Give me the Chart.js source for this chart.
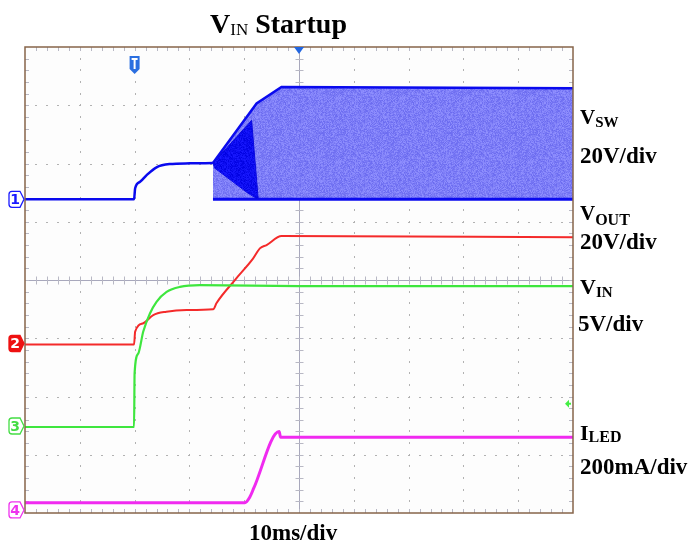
<!DOCTYPE html>
<html>
<head>
<meta charset="utf-8">
<script src="https://cdn.jsdelivr.net/npm/chart.js@4.4.0/dist/chart.umd.min.js"></script>
<style>
    body { margin: 0; background: #fff; }
    #wrap { position: relative; width: 693px; height: 545px; }
    #scope { position: absolute; left: 0; top: 0; }
    .lbl { position: absolute; font-family: "Liberation Serif", "Times New Roman", serif; font-weight: bold;
           line-height: 1; white-space: nowrap; color: #000; }
    .lbl sub { vertical-align: baseline; position: relative; }
</style>
</head>
<body>
<div id="wrap">
    <canvas id="scope" width="693" height="545"></canvas>
    <div class="lbl" style="left:210px;top:10px;font-size:28px">V<sub style="font-size:17px;font-weight:normal;top:2px">IN</sub> Startup</div>
    <div class="lbl" style="left:580px;top:107px;font-size:21px">V<sub style="font-size:15px;top:3px">SW</sub></div>
    <div class="lbl" style="left:580px;top:144px;font-size:23px">20V/div</div>
    <div class="lbl" style="left:580px;top:203px;font-size:21px">V<sub style="font-size:16px;top:5px">OUT</sub></div>
    <div class="lbl" style="left:580px;top:230px;font-size:23px">20V/div</div>
    <div class="lbl" style="left:580px;top:276px;font-size:22px">V<sub style="font-size:15px;top:3px">IN</sub></div>
    <div class="lbl" style="left:578px;top:312px;font-size:23px">5V/div</div>
    <div class="lbl" style="left:580px;top:422px;font-size:22px">I<sub style="font-size:16px;top:2px">LED</sub></div>
    <div class="lbl" style="left:580px;top:455px;font-size:23px">200mA/div</div>
    <div class="lbl" style="left:249px;top:521px;font-size:23px">10ms/div</div>
</div>
<script>
    // time in ms (10 ms/div); values in each channel's own units
    const vswStartT = [0, 19.9, 20.1, 21.0, 22.2, 24.0, 26.4, 30.1, 34.3];
    const vswStartV = [0, 0, 3.8, 6.0, 8.3, 11.0, 12.1, 12.35, 12.45];
    const vswTopT = [34.3, 42.26, 46.8, 100];
    const vswTopV = [12.45, 32.9, 38.6, 38.1];
    const vswBaseT = [34.3, 100];
    const vswBaseV = [0, 0];
    const vswBurstTopT = [34.3, 41.35, 42.55];
    const vswBurstTopV = [12.45, 27.1, 0.3];
    const vswBurstLowT = [34.3, 34.65, 40.73, 42.26, 42.55];
    const vswBurstLowV = [12.45, 10.7, 2.06, 0.34, 0.3];

    const voutT = [0, 19.9, 20.1, 21.6, 23.4, 25.8, 29.5, 34.34, 34.96, 38.3, 41.64, 42.86, 44.08, 46.82, 100];
    const voutV = [0, 0, 4.4, 7.3, 10.1, 11.25, 11.8, 12.07, 14.24, 22.13, 29.57, 33.0, 34.13, 37.22, 36.8];

    const vinT = [0, 19.9, 20.0, 20.66, 21.58, 22.8, 24.0, 25.84, 28.27, 31.9, 50.15, 100];
    const vinV = [0, 0, 4.63, 6.3, 8.2, 9.75, 10.75, 11.6, 12.03, 12.18, 12.1, 12.09];

    const iledT = [0, 40.12, 41.03, 41.76, 46.38, 46.64, 100];
    const iledV = [25, 25, 44.6, 75.5, 269, 250, 250];

    // per channel: units per division and ground position (divisions above the bottom edge)
    const unitsPerDiv = [20, 20, 5, 200];
    const groundDiv = [5.385, 2.893, 1.476, 0.052];
    const triggerTime = 20;
    const trigLevelVin = 2.0;

    const pts = (t, v) => t.map((ti, i) => ({ x: ti, y: v[i] }));
    const range = (ch) => ({ min: -groundDiv[ch] * unitsPerDiv[ch], max: (8 - groundDiv[ch]) * unitsPerDiv[ch] });

    const ctx = document.getElementById('scope').getContext('2d');

    function hash(x, y) {
        let h = (x * 374761393 + y * 668265263) | 0;
        h = Math.imul(h ^ (h >>> 13), 1274126177);
        return ((h ^ (h >>> 16)) >>> 0) / 4294967296;
    }
    function noisePattern(lo, hi, blueLo, alpha) {
        const c = document.createElement('canvas');
        c.width = 64; c.height = 64;
        const g = c.getContext('2d');
        const img = g.createImageData(64, 64);
        for (let y = 0; y < 64; y++) {
            for (let x = 0; x < 64; x++) {
                const n = hash(x, y);
                const i = (y * 64 + x) * 4;
                img.data[i] = lo + n * (hi - lo);
                img.data[i + 1] = lo + n * (hi - lo);
                img.data[i + 2] = blueLo + n * (255 - blueLo);
                img.data[i + 3] = alpha;
            }
        }
        g.putImageData(img, 0, 0);
        return ctx.createPattern(c, 'repeat');
    }
    const lightFill = noisePattern(100, 140, 238, 245);
    const darkFill = noisePattern(0, 25, 225, 255);

    const graticule = {
        id: 'graticule',
        beforeDatasetsDraw(chart) {
            const { ctx, chartArea: a, scales: { x } } = chart;
            const divY = (a.bottom - a.top) / 8;
            const divX = (a.right - a.left) / 10;
            ctx.save();
            ctx.fillStyle = '#fdfdfd';
            ctx.fillRect(a.left, a.top, a.right - a.left, a.bottom - a.top);
            ctx.fillStyle = '#b2b2b2';
            for (let i = 1; i < 10; i++) {
                if (i === 5) continue;
                const px = Math.round(x.getPixelForValue(i * 10));
                for (let k = 1; k < 40; k++) ctx.fillRect(px, Math.round(a.top + k * divY / 5) - 1, 1, 2);
            }
            for (let j = 1; j < 8; j++) {
                if (j === 4) continue;
                const py = Math.round(a.top + j * divY);
                for (let k = 1; k < 50; k++) ctx.fillRect(Math.round(a.left + k * divX / 5) - 1, py, 2, 1);
            }
            // centre cross with minor ticks
            const cx = Math.round(x.getPixelForValue(50)) + 0.5;
            const cy = Math.round(a.top + 4 * divY) + 0.5;
            ctx.strokeStyle = '#a8a8bc';
            ctx.lineWidth = 1;
            ctx.beginPath();
            ctx.moveTo(cx, a.top); ctx.lineTo(cx, a.bottom);
            ctx.moveTo(a.left, cy); ctx.lineTo(a.right, cy);
            ctx.stroke();
            ctx.strokeStyle = '#b8b8c4';
            ctx.beginPath();
            for (let k = 1; k < 50; k++) {
                const px = Math.round(a.left + k * divX / 5) + 0.5;
                ctx.moveTo(px, cy - 4); ctx.lineTo(px, cy + 4);
                ctx.moveTo(px, a.top); ctx.lineTo(px, a.top + 4);
                ctx.moveTo(px, a.bottom - 4); ctx.lineTo(px, a.bottom);
            }
            for (let k = 1; k < 40; k++) {
                const py = Math.round(a.top + k * divY / 5) + 0.5;
                ctx.moveTo(cx - 4, py); ctx.lineTo(cx + 4, py);
                ctx.moveTo(a.left, py); ctx.lineTo(a.left + 4, py);
                ctx.moveTo(a.right - 4, py); ctx.lineTo(a.right, py);
            }
            ctx.stroke();
            ctx.restore();
        }
    };

    function tag(ctx, y, color, text, filled) {
        const l = 9, r = 20, tip = 24, h = 8;
        ctx.beginPath();
        ctx.moveTo(l + 3, y - h);
        ctx.lineTo(r, y - h);
        ctx.lineTo(tip, y);
        ctx.lineTo(r, y + h);
        ctx.lineTo(l + 3, y + h);
        ctx.quadraticCurveTo(l, y + h, l, y + h - 3);
        ctx.lineTo(l, y - h + 3);
        ctx.quadraticCurveTo(l, y - h, l + 3, y - h);
        ctx.closePath();
        ctx.fillStyle = filled ? color : '#ffffff';
        ctx.fill();
        ctx.lineWidth = 1.3;
        ctx.strokeStyle = color;
        ctx.stroke();
        ctx.fillStyle = filled ? '#ffffff' : color;
        ctx.font = 'bold 14px "DejaVu Sans"';
        ctx.textAlign = 'center';
        ctx.textBaseline = 'middle';
        ctx.fillText(text, (l + r) / 2 + 0.5, y + 1);
    }

    const markers = {
        id: 'markers',
        afterDatasetsDraw(chart) {
            const { ctx, chartArea: a, scales } = chart;
            ctx.save();
            ctx.strokeStyle = '#86644a';
            ctx.lineWidth = 1.5;
            ctx.strokeRect(a.left, a.top, a.right - a.left, a.bottom - a.top);

            tag(ctx, scales.y1.getPixelForValue(0), '#1a1aff', '1', false);
            tag(ctx, scales.y2.getPixelForValue(0) - 1, '#ee1111', '2', true);
            tag(ctx, scales.y3.getPixelForValue(0) - 1, '#44dd44', '3', false);
            tag(ctx, scales.y4.getPixelForValue(0), '#ee33ee', '4', false);

            // trigger position marker
            const tx = scales.x.getPixelForValue(triggerTime);
            ctx.fillStyle = '#2b6fe0';
            ctx.beginPath();
            ctx.moveTo(tx - 5, 56); ctx.lineTo(tx + 5, 56); ctx.lineTo(tx + 5, 69);
            ctx.lineTo(tx, 74); ctx.lineTo(tx - 5, 69); ctx.closePath();
            ctx.fill();
            ctx.fillStyle = '#ffffff';
            ctx.fillRect(tx - 3, 58, 6, 2);
            ctx.fillRect(tx - 1, 58, 2, 11);

            // horizontal position marker
            const hx = scales.x.getPixelForValue(50);
            ctx.fillStyle = '#2266e0';
            ctx.beginPath();
            ctx.moveTo(hx - 5, a.top); ctx.lineTo(hx + 5, a.top); ctx.lineTo(hx, a.top + 7);
            ctx.closePath();
            ctx.fill();

            // trigger level arrow (ch3)
            const ly = scales.y3.getPixelForValue(trigLevelVin);
            ctx.fillStyle = '#44ee44';
            ctx.beginPath();
            ctx.moveTo(a.right - 8, ly); ctx.lineTo(a.right - 4, ly - 4); ctx.lineTo(a.right - 4, ly + 4);
            ctx.closePath();
            ctx.fill();
            ctx.fillRect(a.right - 5, ly - 1, 3, 2);
            ctx.restore();
        }
    };

    const scopeChart = new Chart(ctx, {
        type: 'line',
        data: {
            datasets: [
                {
                    data: pts(iledT, iledV), yAxisID: 'y4', borderColor: '#f02af0', borderWidth: 3,
                    cubicInterpolationMode: 'monotone', order: 1
                },
                {
                    data: pts(vinT, vinV), yAxisID: 'y3', borderColor: '#3ee63e', borderWidth: 2.2,
                    cubicInterpolationMode: 'monotone', order: 2
                },
                {
                    data: pts(voutT, voutV), yAxisID: 'y2', borderColor: '#f42a2a', borderWidth: 2,
                    cubicInterpolationMode: 'monotone', order: 3
                },
                {
                    data: pts(vswStartT, vswStartV), yAxisID: 'y1', borderColor: '#0a0aee', borderWidth: 2.5,
                    cubicInterpolationMode: 'monotone', order: 6
                },
                {
                    data: pts(vswBurstTopT, vswBurstTopV), yAxisID: 'y1', borderColor: '#0808e0', borderWidth: 1,
                    fill: { target: 5 }, backgroundColor: darkFill, order: 7
                },
                {
                    data: pts(vswBurstLowT, vswBurstLowV), yAxisID: 'y1', borderColor: '#0808e0', borderWidth: 1,
                    order: 8
                },
                {
                    data: pts(vswTopT, vswTopV), yAxisID: 'y1', borderColor: '#0a0aee', borderWidth: 2.5,
                    fill: { target: 7 }, backgroundColor: lightFill, order: 10
                },
                {
                    data: pts(vswBaseT, vswBaseV), yAxisID: 'y1', borderColor: '#0a0aee', borderWidth: 3,
                    order: 9
                }
            ]
        },
        options: {
            responsive: false,
            animation: false,
            devicePixelRatio: 1,
            layout: { padding: { left: 25, top: 47, right: 120, bottom: 32 } },
            plugins: { legend: { display: false }, tooltip: { enabled: false } },
            elements: { point: { radius: 0 }, line: { tension: 0 } },
            scales: {
                x: { type: 'linear', min: 0, max: 100, display: false },
                y: { display: false },
                y1: { type: 'linear', ...range(0), display: false },
                y2: { type: 'linear', ...range(1), display: false },
                y3: { type: 'linear', ...range(2), display: false },
                y4: { type: 'linear', ...range(3), display: false }
            }
        },
        plugins: [graticule, markers]
    });
</script>
</body>
</html>
